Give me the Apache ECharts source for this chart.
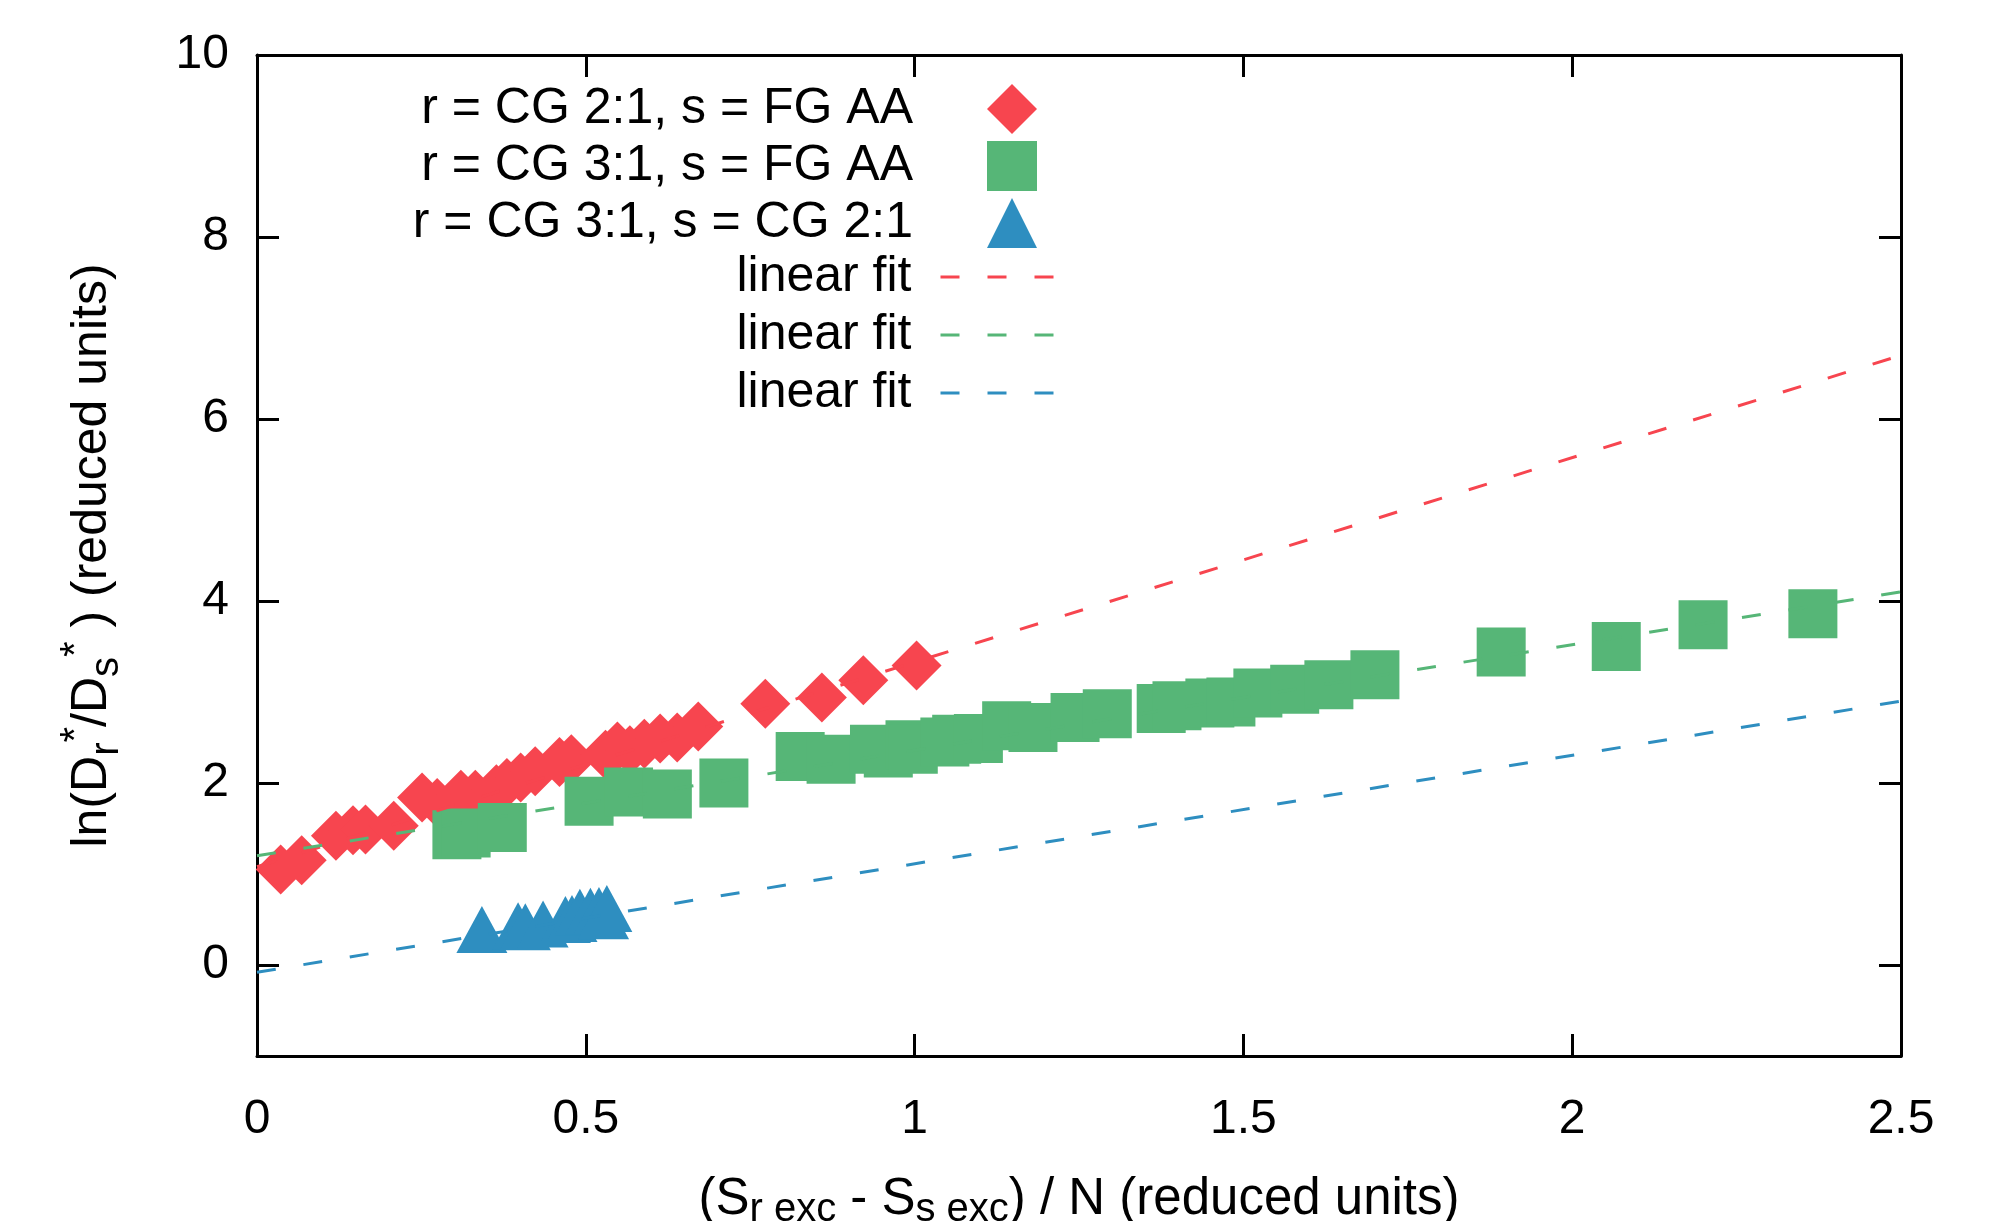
<!DOCTYPE html>
<html>
<head>
<meta charset="utf-8">
<script src="https://cdn.jsdelivr.net/npm/echarts@6/dist/echarts.min.js"></script>
<style>
  html, body { margin: 0; padding: 0; background: #fff; }
  #chart { width: 1996px; height: 1221px; }
</style>
</head>
<body>
<div id="chart"></div>
<script>
// values: [x, y]
const redPts = [
  [0.036, 1.05], [0.068, 1.15], [0.120, 1.42], [0.146, 1.48], [0.165, 1.49],
  [0.208, 1.53], [0.251, 1.84], [0.274, 1.78], [0.310, 1.87], [0.332, 1.87],
  [0.364, 1.93], [0.380, 2.00], [0.401, 2.06], [0.423, 2.13], [0.460, 2.23],
  [0.478, 2.26], [0.530, 2.31], [0.548, 2.40], [0.567, 2.36], [0.589, 2.43],
  [0.613, 2.49], [0.639, 2.50], [0.671, 2.62], [0.773, 2.87], [0.859, 2.94],
  [0.922, 3.13], [1.003, 3.29]
];
const greenPts = [
  [0.304, 1.43], [0.318, 1.45], [0.373, 1.51], [0.505, 1.80], [0.565, 1.90],
  [0.624, 1.88], [0.710, 2.00], [0.826, 2.29], [0.873, 2.26], [0.939, 2.37],
  [0.960, 2.33], [0.993, 2.42], [0.998, 2.37], [1.046, 2.45], [1.064, 2.48],
  [1.097, 2.49], [1.140, 2.63], [1.180, 2.61], [1.244, 2.72], [1.293, 2.76],
  [1.375, 2.82], [1.399, 2.85], [1.449, 2.88], [1.481, 2.89], [1.522, 2.99],
  [1.578, 3.03], [1.630, 3.08], [1.700, 3.19], [1.892, 3.44], [2.067, 3.50],
  [2.199, 3.74], [2.366, 3.86]
];
const bluePts = [
  [0.342, 0.39], [0.397, 0.43], [0.408, 0.42], [0.435, 0.45], [0.469, 0.50],
  [0.479, 0.51], [0.491, 0.58], [0.507, 0.59], [0.520, 0.60], [0.527, 0.54],
  [0.532, 0.62]
];
// fit lines, end points
const redFit = [[0, 1.08], [2.5, 6.70]];
const greenFit = [[0, 1.20], [2.5, 4.10]];
const blueFit = [[0, -0.08], [2.5, 2.90]];

const seriesNames = ['r = CG 2:1, s = FG AA', 'r = CG 3:1, s = FG AA', 'r = CG 3:1, s = CG 2:1'];
const fitNames = ['fit1', 'fit2', 'fit3'];
const fitLabel = 'linear fit';
const xTicks = [0, 0.5, 1, 1.5, 2, 2.5];
const yTicks = [0, 2, 4, 6, 8, 10];

const colors = ['#f7454f', '#56b677', '#2e8ec0'];
const font = 'Liberation Sans, Arial, Helvetica, sans-serif';
const dash = [19, 28];

let myChart = echarts.init(document.getElementById('chart'));

const axisCommon = {
  axisLine: { onZero: false, lineStyle: { color: '#000', width: 3 } },
  axisTick: { inside: true, length: 22, lineStyle: { color: '#000', width: 3 } },
  splitLine: { show: false },
};

myChart.setOption({
  animation: false,
  textStyle: { fontFamily: font },
  grid: { left: 257, right: 95, top: 55, bottom: 165, outerBoundsMode: 'none', containLabel: false },
  legend: [
    {
      data: seriesNames,
      orient: 'vertical',
      align: 'right',
      right: 959,
      top: 84,
      padding: 0,
      itemWidth: 50,
      itemHeight: 50,
      itemGap: 7,
      selectedMode: false,
      textStyle: { fontSize: 50, color: '#000', fontFamily: font, padding: [0, 69, 0, 0] },
    },
    {
      data: fitNames,
      orient: 'vertical',
      align: 'right',
      right: 934,
      top: 252,
      padding: 0,
      itemWidth: 120,
      itemHeight: 50,
      itemGap: 8,
      selectedMode: false,
      formatter: () => fitLabel,
      itemStyle: { opacity: 0 },
      lineStyle: { width: 3 },
      textStyle: { fontSize: 50, color: '#000', fontFamily: font, padding: [0, 24, 0, 0] },
    },
  ],
  xAxis: [
    {
      type: 'value', min: 0, max: 2.5, position: 'bottom',
      ...axisCommon,
      axisTick: { ...axisCommon.axisTick, customValues: xTicks },
      axisLabel: { customValues: xTicks, fontSize: 48, color: '#000', margin: 40, fontFamily: font },
      name: '(S{sub|r exc} - S{sub|s exc}) / N (reduced units)',
      nameLocation: 'middle',
      nameGap: 114,
      nameTextStyle: {
        fontSize: 51, color: '#000', fontFamily: font, lineHeight: 60,
        rich: { sub: { fontSize: 40, lineHeight: 34, verticalAlign: 'bottom', fontFamily: font, color: '#000' } },
      },
    },
    {
      type: 'value', min: 0, max: 2.5, position: 'top',
      ...axisCommon,
      axisTick: { ...axisCommon.axisTick, customValues: xTicks },
      axisLabel: { show: false },
    },
  ],
  yAxis: [
    {
      type: 'value', min: -1, max: 10, position: 'left',
      ...axisCommon,
      axisTick: { ...axisCommon.axisTick, customValues: yTicks },
      axisLabel: { customValues: yTicks, fontSize: 48, color: '#000', margin: 28, fontFamily: font },
      name: 'ln(D{sub|r}{sup|*}/D{sub|s}{sup|*} ) (reduced units)',
      nameLocation: 'middle',
      nameGap: 130,
      nameTextStyle: {
        fontSize: 50, color: '#000', fontFamily: font, lineHeight: 70,
        rich: {
          sub: { fontSize: 40, lineHeight: 38, verticalAlign: 'bottom', fontFamily: font, color: '#000' },
          sup: { fontSize: 40, lineHeight: 38, verticalAlign: 'top', fontFamily: font, color: '#000' },
        },
      },
    },
    {
      type: 'value', min: -1, max: 10, position: 'right',
      ...axisCommon,
      axisTick: { ...axisCommon.axisTick, customValues: yTicks },
      axisLabel: { show: false },
    },
  ],
  series: [
    { name: seriesNames[0], type: 'scatter', data: redPts, symbol: 'diamond', symbolSize: [50, 50], itemStyle: { color: colors[0], opacity: 1 } },
    { name: seriesNames[1], type: 'scatter', data: greenPts, symbol: 'rect', symbolSize: [49, 49], itemStyle: { color: colors[1], opacity: 1 } },
    { name: seriesNames[2], type: 'scatter', data: bluePts, symbol: 'triangle', symbolSize: [51, 47], itemStyle: { color: colors[2], opacity: 1 } },
    { name: fitNames[0], type: 'line', data: redFit, symbol: 'none', showSymbol: false, lineStyle: { color: colors[0], width: 3, type: dash }, itemStyle: { color: colors[0] } },
    { name: fitNames[1], type: 'line', data: greenFit, symbol: 'none', showSymbol: false, lineStyle: { color: colors[1], width: 3, type: dash }, itemStyle: { color: colors[1] } },
    { name: fitNames[2], type: 'line', data: blueFit, symbol: 'none', showSymbol: false, lineStyle: { color: colors[2], width: 3, type: dash }, itemStyle: { color: colors[2] } },
  ],
});
</script>
</body>
</html>
